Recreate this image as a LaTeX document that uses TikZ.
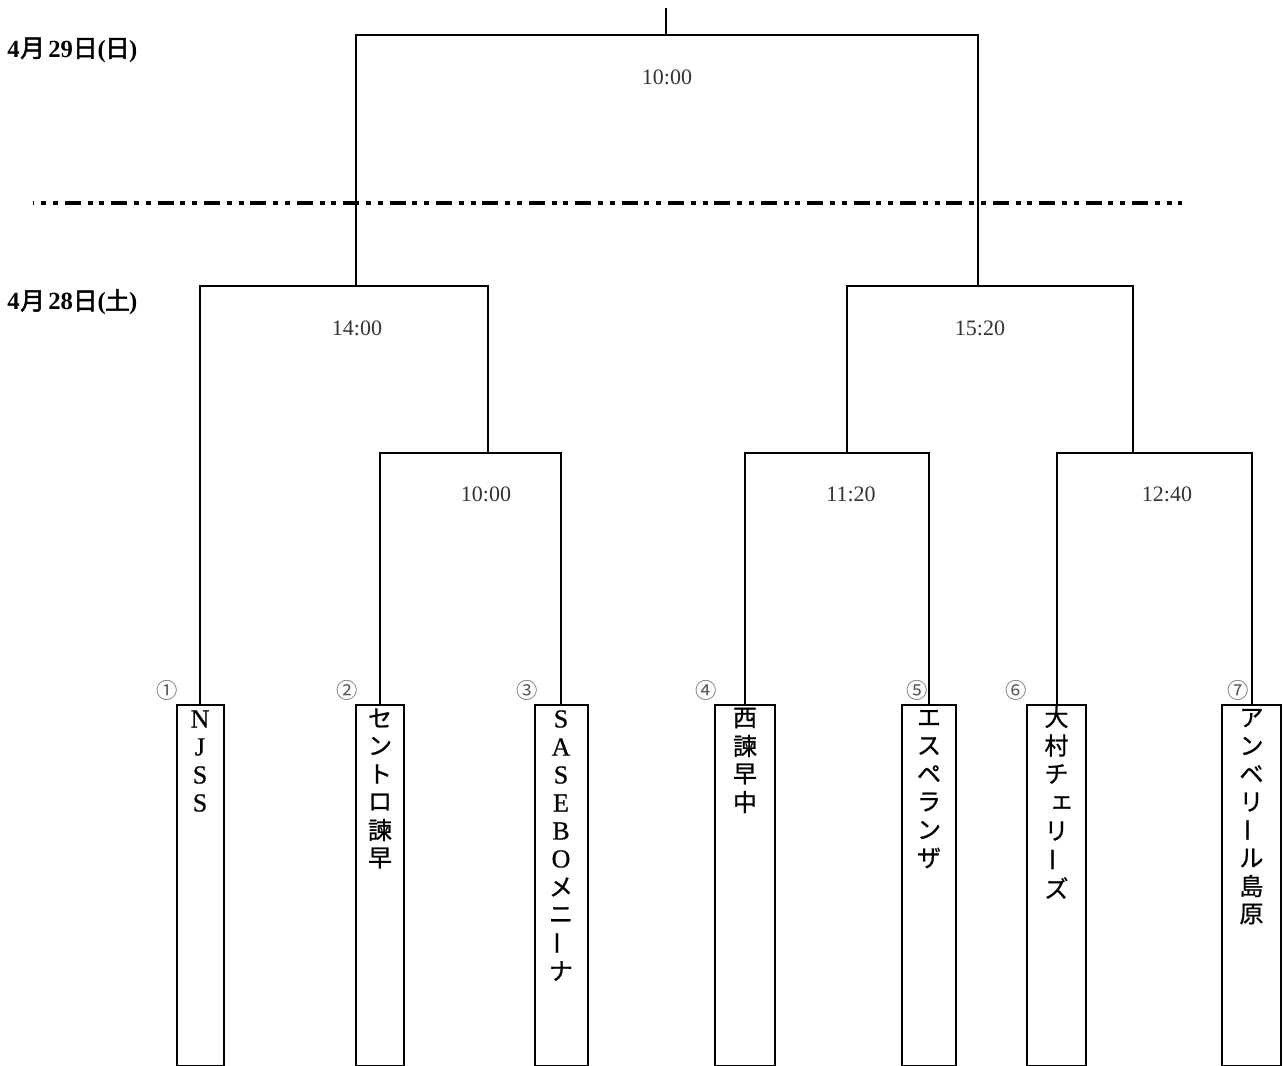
\documentclass[tikz,border=0pt]{standalone}
\usepackage{fontspec}
\usepackage{graphicx}
\setmainfont{Liberation Serif}
\newfontfamily\jp[AutoFakeBold=2]{Noto Sans CJK JP}
\newfontfamily\jpm[FakeBold=0.8]{Noto Sans CJK JP}
\newfontfamily\latm[FakeBold=0.6]{Liberation Serif}
\newcommand\lat{\latm\fontsize{19.5}{21}\selectfont}
\newcommand\choon{\rotatebox[origin=c]{90}{ー}}
\newcommand\smallE{\hbox{\kern8pt ェ}}
\newcommand\datetext[2]{{\bfseries 4\kern0.5pt{\jp\bfseries 月}\kern2.5pt #1{\jp\bfseries 日}(\kern-0.5pt{\jp\bfseries #2}\kern-0.5pt)}}
\tikzset{
  ln/.style={line width=1.5pt},
  teambox/.style={draw, line width=1.5pt, minimum height=361*0.75pt, inner sep=0pt, anchor=north},
  chr/.style={inner sep=0pt, font=\jpm\fontsize{18}{20}\selectfont},
  timelbl/.style={inner sep=0pt, text=black!80, font=\fontsize{16.5}{19}\selectfont},
  numlbl/.style={inner sep=0pt, text=black!65, font=\jp\fontsize{16}{18}\selectfont},
  datelbl/.style={inner sep=0pt, anchor=west, font=\fontsize{18.5}{21}\selectfont},
  sep/.style={line width=2.6pt, dash pattern=on 12pt off 5.1pt on 3.75pt off 5.1pt on 3.75pt off 5.1pt, dash phase=10.9pt}
}
\begin{document}
\begin{tikzpicture}[x=0.75pt,y=-0.75pt]
\useasboundingbox (0,0) rectangle (1283,1066);
% date labels
\node[datelbl] (d29) at (7,50) {\datetext{29}{日}};
\node[datelbl] (d28) at (7,302) {\datetext{28}{土}};
% separator
\coordinate (sepA) at (33,203);
\coordinate (sepB) at (1182,203);
\draw[sep] (sepA) -- (sepB);
% team boxes
\node[teambox, minimum width=47*0.75pt] (t1) at (200,704) {};
\node[teambox, minimum width=48*0.75pt] (t2) at (380,704) {};
\node[teambox, minimum width=53*0.75pt] (t3) at (561,704) {};
\node[teambox, minimum width=60*0.75pt] (t4) at (745,704) {};
\node[teambox, minimum width=54*0.75pt] (t5) at (929,704) {};
\node[teambox, minimum width=59*0.75pt] (t6) at (1056.5,704) {};
\node[teambox, minimum width=59*0.75pt] (t7) at (1251.5,704) {};
% team names
\foreach \c [count=\i] in {{\lat N},{\lat J},{\lat S},{\lat S}}
  \node[chr] (n1-\i) at (200,{719+28*(\i-1)}) {\c};
\foreach \c [count=\i] in {セ,ン,ト,ロ,諫,早}
  \node[chr] (n2-\i) at (380,{718+28*(\i-1)}) {\c};
\foreach \c [count=\i] in {{\lat S},{\lat A},{\lat S},{\lat E},{\lat B},{\lat O},メ,ニ,\choon,ナ}
  \node[chr] (n3-\i) at (561,{719+28*(\i-1)}) {\c};
\foreach \c [count=\i] in {西,諫,早,中}
  \node[chr] (n4-\i) at (745,{718+28*(\i-1)}) {\c};
\foreach \c [count=\i] in {エ,ス,ペ,ラ,ン,ザ}
  \node[chr] (n5-\i) at (929,{718+28*(\i-1)}) {\c};
\foreach \c [count=\i] in {大,村,チ,\smallE,リ,\choon,ズ}
  \node[chr] (n6-\i) at (1056.5,{717+28.5*(\i-1)}) {\c};
\foreach \c [count=\i] in {ア,ン,ベ,リ,\choon,ル,島,原}
  \node[chr] (n7-\i) at (1251.5,{718+28*(\i-1)}) {\c};
% seed numbers
\node[numlbl] (s1n) at (167,690) {①};
\node[numlbl] (s2n) at (347,690) {②};
\node[numlbl] (s3n) at (527,690) {③};
\node[numlbl] (s4n) at (706,690) {④};
\node[numlbl] (s5n) at (917,690) {⑤};
\node[numlbl] (s6n) at (1016,690) {⑥};
\node[numlbl] (s7n) at (1238,690) {⑦};
% bracket junctions
\coordinate (top) at (666,8);
\coordinate (f) at (666,35);
\coordinate (sL) at (356,286);
\coordinate (sR) at (978,286);
\coordinate (m1) at (488,453);
\coordinate (m2) at (847,453);
\coordinate (m3) at (1133,453);
% connectors
\draw[ln] (t2.north) |- (m1) -| (t3.north);
\draw[ln] (t1.north) |- (sL) -| (m1);
\draw[ln] (t4.north) |- (m2) -| (t5.north);
\draw[ln] (t6.north) |- (m3) -| (t7.north);
\draw[ln] (m2) |- (sR) -| (m3);
\draw[ln] (sL) |- (f) -| (sR);
\draw[ln] (f) -- (top);
% match times
\node[timelbl] (tf) at (667,77) {10:00};
\node[timelbl] (tsl) at (357,328) {14:00};
\node[timelbl] (tsr) at (980,328) {15:20};
\node[timelbl] (tm1) at (486,494) {10:00};
\node[timelbl] (tm2) at (851,494) {11:20};
\node[timelbl] (tm3) at (1167,494) {12:40};
\end{tikzpicture}
\end{document}
